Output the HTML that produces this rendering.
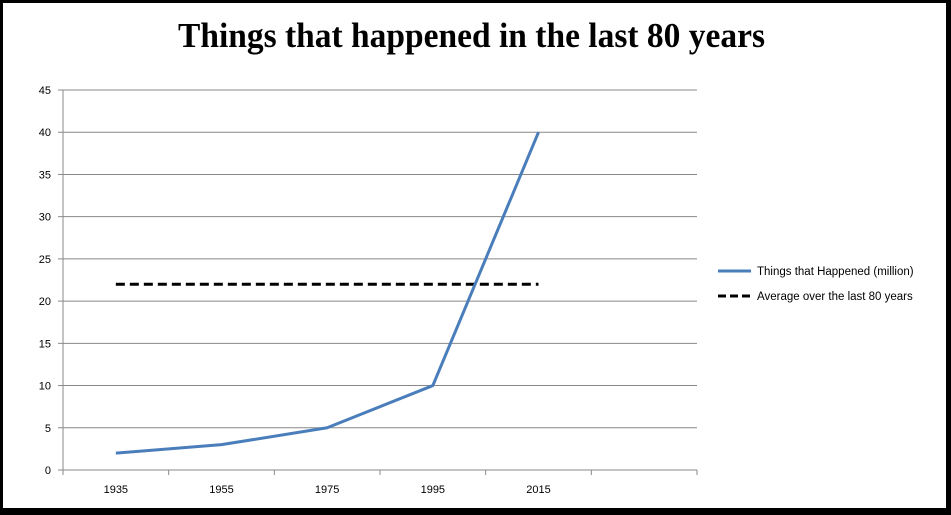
<!DOCTYPE html>
<html><head><meta charset="utf-8"><style>
html,body{margin:0;padding:0;background:#fff}
#wrap{position:relative;width:951px;height:515px;box-sizing:border-box;border-style:solid;border-color:#000;border-width:3px 5px 7px 3px;overflow:hidden}
svg{position:absolute;left:-3px;top:-3px}
</style></head><body>
<div id="wrap">
<svg width="951" height="515" id="chart"></svg>
</div>
<script>
const categories=["1935","1955","1975","1995","2015",""];
const happened=[2,3,5,10,40];
const average=[22,22,22,22,22];
const yTicks=[0,5,10,15,20,25,30,35,40,45];
const NS="http://www.w3.org/2000/svg";
const svg=document.getElementById('chart');
const X0=63,X1=697,Y0=470,Y1=90,YMAX=45;
const slot=(X1-X0)/categories.length;
const xc=i=>X0+slot*(i+0.5);
const y=v=>Y0-(v/YMAX)*(Y0-Y1);
function mk(t,a){const e=document.createElementNS(NS,t);for(const k in a)e.setAttribute(k,a[k]);svg.appendChild(e);return e;}
let t=mk('text',{x:178,y:47,textLength:587,lengthAdjust:'spacingAndGlyphs','font-family':'Liberation Serif, serif','font-weight':'bold','font-size':35,fill:'#000'});
t.textContent='Things that happened in the last 80 years';


yTicks.forEach(v=>{
 const g=mk('line',{x1:X0,x2:X1,y1:y(v),y2:y(v),stroke:'#888','stroke-width':1});
 
 
 const tk=mk('line',{x1:X0-5,x2:X0,y1:y(v),y2:y(v),stroke:'#888'});
 
 
 const l=mk('text',{x:X0-12,y:y(v)+4,'text-anchor':'end','font-family':'Liberation Sans, sans-serif','font-size':11,fill:'#000'});
 l.textContent=v;
 
 
});
const ax=mk('line',{x1:X0,x2:X0,y1:Y1,y2:Y0,stroke:'#888'});


for(let i=0;i<=categories.length;i++){
 const tk=mk('line',{x1:X0+slot*i,x2:X0+slot*i,y1:Y0,y2:Y0+5,stroke:'#888'});
 
 
}
categories.forEach((c,i)=>{
 if(!c)return;
 const l=mk('text',{x:xc(i),y:Y0+23,'text-anchor':'middle','font-family':'Liberation Sans, sans-serif','font-size':11,fill:'#000'});
 l.textContent=c;
 
 
});
const avg=mk('polyline',{points:average.map((v,i)=>xc(i)+','+y(v)).join(' '),fill:'none',stroke:'#000','stroke-width':3,'stroke-dasharray':'9,5'});


const ln=mk('polyline',{points:happened.map((v,i)=>xc(i)+','+y(v)).join(' '),fill:'none',stroke:'#4a7ebb','stroke-width':3,'stroke-linejoin':'round'});


const l1=mk('line',{x1:718,x2:751,y1:271,y2:271,stroke:'#4a7ebb','stroke-width':3});


const t1=mk('text',{x:757,y:275,'font-family':'Liberation Sans, sans-serif','font-size':11.5,fill:'#000'});
t1.textContent='Things that Happened (million)';


const l2=mk('line',{x1:718,x2:751,y1:296,y2:296,stroke:'#000','stroke-width':3,'stroke-dasharray':'8,4'});


const t2=mk('text',{x:757,y:300,'font-family':'Liberation Sans, sans-serif','font-size':11.5,fill:'#000'});
t2.textContent='Average over the last  80 years';


</script>
</body></html>
